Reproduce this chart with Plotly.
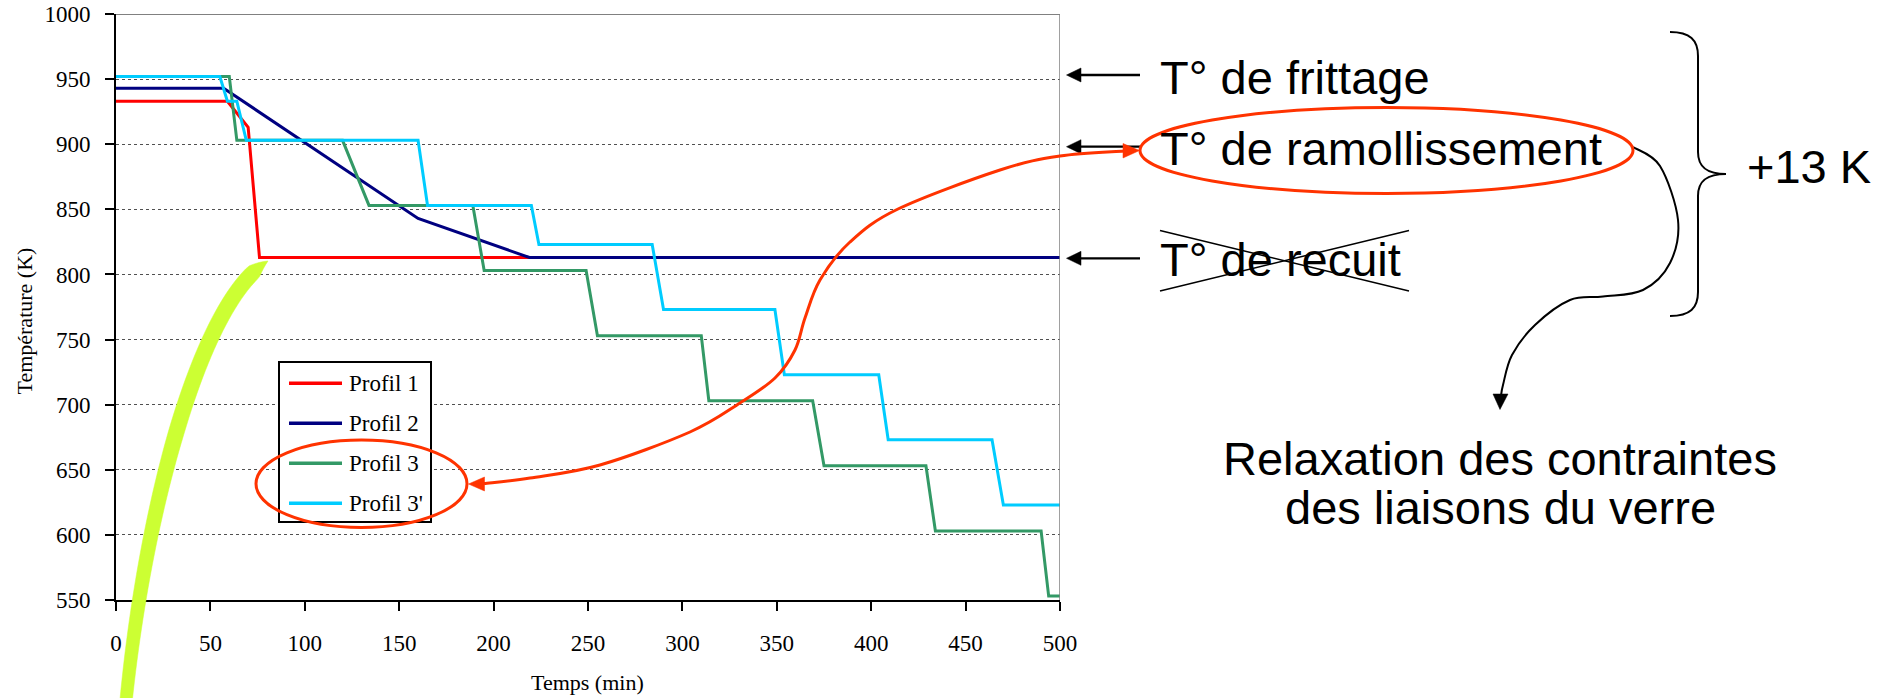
import math
import plotly.graph_objects as go

# ---------------- data ----------------
series_names = ["Profil 1", "Profil 2", "Profil 3", "Profil 3'"]
time_p1 = [0, 59, 70, 76, 500]
temp_p1 = [933, 933, 913, 813, 813]
time_p2 = [0, 57, 160, 219, 500]
temp_p2 = [943, 943, 843, 813, 813]
time_p3 = [0, 60, 64, 120, 134, 189, 195, 249, 255, 310, 314, 369, 375, 429, 434, 490, 494, 500]
temp_p3 = [952, 952, 903, 903, 853, 853, 803, 803, 753, 753, 703, 703, 653, 653, 603, 603, 553, 553]
time_p3b = [0, 55, 59, 64, 69, 160, 165, 220, 224, 284, 290, 349, 354, 404, 409, 464, 470, 500]
temp_p3b = [952, 952, 933, 933, 903, 903, 853, 853, 823, 823, 773, 773, 723, 723, 673, 673, 623, 623]
x_ticks = [0, 50, 100, 150, 200, 250, 300, 350, 400, 450, 500]
y_ticks = [550, 600, 650, 700, 750, 800, 850, 900, 950, 1000]
x_title = "Temps (min)"
y_title = "Température (K)"
label_frittage = "T° de frittage"
label_ramol = "T° de ramollissement"
label_recuit = "T° de recuit"
label_delta = "+13 K"
label_relax_1 = "Relaxation des contraintes"
label_relax_2 = "des liaisons du verre"

# ---------------- style ----------------
colors = ["#FF0000", "#000080", "#339966", "#00CCFF"]
SERIF = "Liberation Serif, Times New Roman, serif"
SANS = "Liberation Sans, Arial, sans-serif"
ANNOT_RED = "#FF3300"
LIME = "#CCFF33"

W, H = 1882, 698
L, R, T, B = 116, 1060, 14, 600   # plot area in pixels
PW, PH = R - L, B - T


def px(x):
    return (x - L) / PW


def py(y):
    return (B - y) / PH


def pt(x, y):
    return f"{px(x):.5f},{py(y):.5f}"


def smooth(pts, move=True):
    s = ("M" if move else " L") + pt(*pts[0])
    n = len(pts)
    for i in range(n - 1):
        p0 = pts[i - 1] if i > 0 else pts[i]
        p1 = pts[i]
        p2 = pts[i + 1]
        p3 = pts[i + 2] if i + 2 < n else pts[i + 1]
        c1 = (p1[0] + (p2[0] - p0[0]) / 6, p1[1] + (p2[1] - p0[1]) / 6)
        c2 = (p2[0] - (p3[0] - p1[0]) / 6, p2[1] - (p3[1] - p1[1]) / 6)
        s += " C" + pt(*c1) + " " + pt(*c2) + " " + pt(*p2)
    return s


def poly(pts, close=True):
    s = "M" + pt(*pts[0]) + "".join(" L" + pt(*p) for p in pts[1:])
    return s + (" Z" if close else "")


def bez(P, t):
    a, b, c, d = (1 - t) ** 3, 3 * (1 - t) ** 2 * t, 3 * (1 - t) * t ** 2, t ** 3
    return (a * P[0][0] + b * P[1][0] + c * P[2][0] + d * P[3][0],
            a * P[0][1] + b * P[1][1] + c * P[2][1] + d * P[3][1])


def bez_d(P, t):
    a, b, c = 3 * (1 - t) ** 2, 6 * (1 - t) * t, 3 * t ** 2
    return (a * (P[1][0] - P[0][0]) + b * (P[2][0] - P[1][0]) + c * (P[3][0] - P[2][0]),
            a * (P[1][1] - P[0][1]) + b * (P[2][1] - P[1][1]) + c * (P[3][1] - P[2][1]))


fig = go.Figure()
for name, xs, ys, c in zip(series_names, [time_p1, time_p2, time_p3, time_p3b],
                           [temp_p1, temp_p2, temp_p3, temp_p3b], colors):
    fig.add_trace(go.Scatter(x=xs, y=ys, mode="lines", name=name,
                             line=dict(color=c, width=3), showlegend=False))

shapes = []
annots = []

# plot frame (top and right grey borders)
shapes.append(dict(type="line", xref="x", yref="y", x0=0, x1=500, y0=1000, y1=1000,
                   line=dict(color="#808080", width=2), layer="above"))
shapes.append(dict(type="line", xref="x", yref="y", x0=500, x1=500, y0=550, y1=1000,
                   line=dict(color="#808080", width=1.5), layer="above"))

# manual legend
shapes.append(dict(type="rect", xref="paper", yref="paper", x0=px(279), x1=px(431),
                   y0=py(522), y1=py(362), line=dict(color="black", width=2),
                   fillcolor="white", layer="above"))
for i, (name, c) in enumerate(zip(series_names, colors)):
    yy = 383.3 + 40 * i
    shapes.append(dict(type="line", xref="paper", yref="paper", x0=px(289), x1=px(342),
                       y0=py(yy), y1=py(yy), line=dict(color=c, width=3.5), layer="above"))
    annots.append(dict(text=name, xref="paper", yref="paper", x=px(348), y=py(yy),
                       xanchor="left", yanchor="middle", showarrow=False, borderpad=0,
                       font=dict(family=SERIF, size=23, color="black")))

# black arrows to the right of the chart
for yy in [75, 146.7, 258.3]:
    shapes.append(dict(type="line", xref="paper", yref="paper", x0=px(1079), x1=px(1140),
                       y0=py(yy), y1=py(yy), line=dict(color="black", width=2.3), layer="above"))
    shapes.append(dict(type="path", xref="paper", yref="paper",
                       path=poly([(1066.5, yy), (1081, yy - 7), (1081, yy + 7)]),
                       fillcolor="black", line=dict(color="black", width=0.5), layer="above"))

# cross over "recuit"
shapes.append(dict(type="line", xref="paper", yref="paper", x0=px(1160), y0=py(230.5),
                   x1=px(1409), y1=py(291), line=dict(color="black", width=1.5), layer="above"))
shapes.append(dict(type="line", xref="paper", yref="paper", x0=px(1409), y0=py(230.5),
                   x1=px(1160), y1=py(291), line=dict(color="black", width=1.5), layer="above"))

# brace
brace = ("M" + pt(1670, 32) + " C" + pt(1690, 32) + " " + pt(1698, 40) + " " + pt(1698, 56)
         + " L" + pt(1698, 152) + " C" + pt(1698, 168) + " " + pt(1708, 174) + " " + pt(1726, 174)
         + " C" + pt(1708, 174) + " " + pt(1698, 180) + " " + pt(1698, 196)
         + " L" + pt(1698, 292) + " C" + pt(1698, 308) + " " + pt(1690, 316) + " " + pt(1670, 316))
shapes.append(dict(type="path", xref="paper", yref="paper", path=brace,
                   line=dict(color="black", width=2), layer="above"))

# black curved arrow to "Relaxation"
curve = smooth([(1633, 147), (1660, 166), (1678, 220), (1670, 263), (1643, 290),
                (1603, 296.5), (1570, 300), (1535, 325), (1512, 355), (1503, 385), (1501, 396)])
shapes.append(dict(type="path", xref="paper", yref="paper", path=curve,
                   line=dict(color="black", width=2), layer="above"))
shapes.append(dict(type="path", xref="paper", yref="paper",
                   path=poly([(1500, 409.5), (1493, 394), (1508, 394)]),
                   fillcolor="black", line=dict(color="black", width=0.5), layer="above"))

# red ellipses
shapes.append(dict(type="circle", xref="paper", yref="paper", x0=px(1140), x1=px(1633),
                   y0=py(193.5), y1=py(107.5), line=dict(color=ANNOT_RED, width=3), layer="above"))
shapes.append(dict(type="circle", xref="paper", yref="paper", x0=px(256), x1=px(467),
                   y0=py(527.5), y1=py(440), line=dict(color=ANNOT_RED, width=3), layer="above"))

# red double-headed curved arrow
red_pts = [(1124, 151), (1060, 156), (1000, 170), (898, 209), (850, 242), (820, 280),
           (805, 318), (795, 350), (775, 378), (740, 403), (690, 432), (600, 465),
           (530, 478), (484, 483.5)]
shapes.append(dict(type="path", xref="paper", yref="paper", path=smooth(red_pts),
                   line=dict(color=ANNOT_RED, width=3), layer="above"))
shapes.append(dict(type="path", xref="paper", yref="paper",
                   path=poly([(1139.5, 150.5), (1123, 143.5), (1123, 158)]),
                   fillcolor=ANNOT_RED, line=dict(color=ANNOT_RED, width=0.5), layer="above"))
shapes.append(dict(type="path", xref="paper", yref="paper",
                   path=poly([(468.5, 484), (484.5, 477), (484.5, 491)]),
                   fillcolor=ANNOT_RED, line=dict(color=ANNOT_RED, width=0.5), layer="above"))

# lime highlighter stroke (tapered band around a smooth centre line)
lime_ctrl = [(268, 261), (200, 300), (140, 520), (123, 735)]
side_a, side_b = [], []
N = 60
for i in range(N + 1):
    t = i / N
    cx, cy = bez(lime_ctrl, t)
    dx, dy = bez_d(lime_ctrl, t)
    n = math.hypot(dx, dy)
    nx, ny = -dy / n, dx / n
    w = 7.8 * min(1.0, t / 0.07) - 1.8 * max(0.0, (t - 0.5) / 0.5)
    side_a.append((cx + nx * w, cy + ny * w))
    side_b.append((cx - nx * w, cy - ny * w))
lime_path = poly(side_a + side_b[::-1])
shapes.append(dict(type="path", xref="paper", yref="paper", path=lime_path,
                   fillcolor=LIME, line=dict(color=LIME, width=0.5), layer="above"))


# text annotations (right side)
def sans_label(text, x, y, anchor="left"):
    annots.append(dict(text=text, xref="paper", yref="paper", x=px(x), y=py(y),
                       xanchor=anchor, yanchor="middle", showarrow=False, borderpad=0,
                       font=dict(family=SANS, size=47, color="black")))


sans_label(label_frittage, 1159, 77)
sans_label(label_ramol, 1159, 148.7)
sans_label(label_recuit, 1159, 259.5)
sans_label(label_delta, 1746, 166.5)
sans_label(label_relax_1, 1500, 458.5, anchor="center")
sans_label(label_relax_2, 1500, 507.5, anchor="center")

# axis titles
annots.append(dict(text=x_title, xref="paper", yref="paper", x=px(587), y=py(682.5),
                   xanchor="center", yanchor="middle", showarrow=False, borderpad=0,
                   font=dict(family=SERIF, size=22, color="black")))
annots.append(dict(text=y_title, xref="paper", yref="paper", x=px(24), y=py(321.5),
                   xanchor="center", yanchor="middle", showarrow=False, borderpad=0,
                   textangle=-90, font=dict(family=SERIF, size=22, color="black")))

fig.update_layout(
    width=W, height=H, autosize=False,
    margin=dict(l=L, r=W - R, t=T, b=H - B, pad=0, autoexpand=False),
    plot_bgcolor="white", paper_bgcolor="white",
    showlegend=False,
    shapes=shapes, annotations=annots,
    xaxis=dict(range=[0, 500], tickvals=x_ticks, ticktext=[str(v) for v in x_ticks],
               showline=True, linecolor="black", linewidth=2, mirror=False, automargin=False,
               ticks="outside", ticklen=9, tickwidth=1.5, tickcolor="black",
               showgrid=False, zeroline=False, ticklabelstandoff=12,
               tickfont=dict(family=SERIF, size=23, color="black")),
    yaxis=dict(range=[550, 1000], tickvals=y_ticks, ticktext=[str(v) for v in y_ticks],
               showline=True, linecolor="black", linewidth=2, automargin=False,
               ticks="outside", ticklen=9, tickwidth=1.5, tickcolor="black",
               showgrid=True, gridcolor="#505050", gridwidth=1, griddash="dot",
               zeroline=False, ticklabelstandoff=10,
               tickfont=dict(family=SERIF, size=23, color="black")),
)

fig.write_html("out.html", config={"displayModeBar": False},
               post_script="document.body.style.margin='0px';")
